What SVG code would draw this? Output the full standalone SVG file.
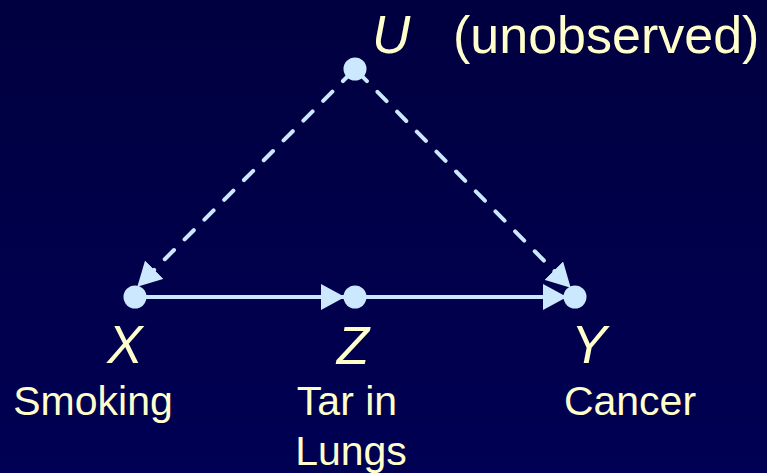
<svg xmlns="http://www.w3.org/2000/svg" width="767" height="473" viewBox="0 0 767 473">
<defs>
<linearGradient id="bg" x1="0" y1="0" x2="0" y2="1">
<stop offset="0" stop-color="#000040"/>
<stop offset="1" stop-color="#000054"/>
</linearGradient>
<marker id="ah" markerUnits="userSpaceOnUse" markerWidth="24" markerHeight="26" refX="23" refY="13" orient="auto" viewBox="0 0 24 26">
<path d="M0,0 L24,13 L0,26 Z" fill="#CCE8FF"/>
</marker>
</defs>
<style>
.edge{stroke:#CCE8FF;stroke-width:4;fill:none;marker-end:url(#ah)}
.dash{stroke-dasharray:13 15;stroke-linecap:round;stroke-dashoffset:-4}
.node{fill:#CCE8FF}
.var{font-family:"Liberation Sans",Arial,sans-serif;font-style:italic;font-size:53px;fill:#FFFFCC}
.lbl{font-family:"Liberation Sans",Arial,sans-serif;font-size:41px;fill:#FFFFCC}
</style>
<rect width="767" height="473" fill="url(#bg)"/>
<g id="connectors">
<line class="edge dash" x1="355" y1="69" x2="138" y2="286"/>
<line class="edge dash" x1="355" y1="69" x2="570" y2="287"/>
<line class="edge" x1="135" y1="297" x2="344" y2="297"/>
<line class="edge" x1="355" y1="297" x2="566" y2="297"/>
</g>
<g id="U">
<circle class="node" cx="355" cy="69" r="11.5"/>
<text class="var" x="372" y="53">U</text>
<text class="lbl" x="453" y="53" style="font-size:52px">(unobserved)</text>
</g>
<g id="X">
<circle class="node" cx="135" cy="297" r="11.5"/>
<text class="var" x="125" y="363" text-anchor="middle">X</text>
<text class="lbl" x="93" y="415" text-anchor="middle">Smoking</text>
</g>
<g id="Z">
<circle class="node" cx="355" cy="297" r="11.5"/>
<text class="var" x="353" y="364" text-anchor="middle">Z</text>
<text class="lbl" x="347" y="415" text-anchor="middle">Tar in</text>
<text class="lbl" x="351" y="465" text-anchor="middle">Lungs</text>
</g>
<g id="Y">
<circle class="node" cx="575" cy="297" r="11.5"/>
<text class="var" x="589" y="363" text-anchor="middle">Y</text>
<text class="lbl" x="630" y="415" text-anchor="middle">Cancer</text>
</g>
</svg>
